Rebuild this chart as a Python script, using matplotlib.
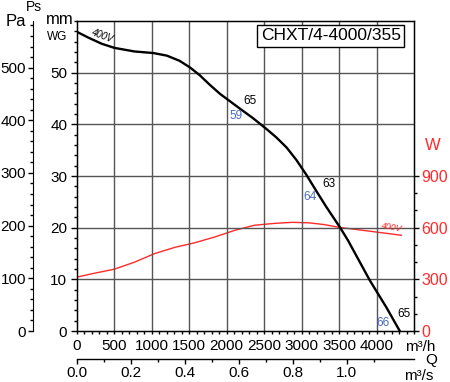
import matplotlib
matplotlib.use("Agg")
import matplotlib.pyplot as plt
from matplotlib.ticker import MultipleLocator, FixedLocator

plt.rcParams['font.family'] = ['Liberation Sans', 'DejaVu Sans']

# pressure curve (mm WG) vs airflow (m3/h)
q_p = [0, 150, 330, 500, 770, 1020, 1200, 1370, 1510, 1640, 1770, 1910, 2040,
       2170, 2350, 2530, 2660, 2800, 2930, 3060, 3200, 3330, 3510, 3620, 3910,
       4130, 4310]
p_mm = [57.9, 56.8, 55.6, 54.8, 54.1, 53.8, 53.3, 52.3, 51.0, 49.5, 47.7, 45.9,
        44.5, 43.1, 41.2, 39.1, 37.5, 35.5, 33.1, 30.3, 27.0, 24.0, 20.1, 17.5,
        9.8, 4.6, 0.0]

# absorbed power (W) vs airflow (m3/h)
q_w = [0, 240, 500, 770, 1040, 1310, 1570, 1840, 2110, 2370, 2640, 2880,
       3100, 3300, 3500, 3900, 4330]
w = [313, 336, 359, 400, 450, 486, 512, 546, 585, 614, 625, 631,
     628, 618, 602, 580, 556]

q_ticks = [0, 500, 1000, 1500, 2000, 2500, 3000, 3500, 4000]
qs_ticks = [0.0, 0.2, 0.4, 0.6, 0.8, 1.0]
mm_ticks = [0, 10, 20, 30, 40, 50]
pa_ticks = [0, 100, 200, 300, 400, 500]
w_ticks = [0, 300, 600, 900]

# sound levels next to the curve: (q, mm, text, colour)
marks = [(2307, 44.6, '65', 'black'), (2120, 41.7, '59', '#4a6cc0'),
         (3360, 28.4, '63', 'black'), (3107, 25.9, '64', '#4a6cc0'),
         (4080, 1.5, '66', '#4a6cc0'), (4373, 3.3, '65', 'black')]

red = '#ff2a2a'
grid_c = '#555555'

fig = plt.figure(figsize=(4.5, 3.82), dpi=100)
ax = fig.add_axes([0.171, 0.1335, 0.749, 0.8115])
ax.set_xlim(0, 4500)
ax.set_ylim(0, 60)

for v in q_ticks[1:]:
    ax.axvline(v, color=grid_c, lw=1.0, zorder=1)
for v in mm_ticks[1:]:
    ax.axhline(v, color=grid_c, lw=1.0, zorder=1)

ax.set_xticks(q_ticks)
ax.xaxis.set_minor_locator(MultipleLocator(100))
ax.set_yticks(mm_ticks)
ax.yaxis.set_minor_locator(MultipleLocator(2))
ax.tick_params(axis='both', which='major', labelsize=11, width=1)
ax.tick_params(axis='y', which='major', length=4, pad=3)
ax.tick_params(axis='x', which='major', length=2.5, pad=3)
ax.tick_params(axis='both', which='minor', length=2, width=1)
for s in ax.spines.values():
    s.set_linewidth(1.0)

# Pa axis on the far left
axp = ax.twinx()
axp.set_ylim(0, 60 * 9.80665)
axp.yaxis.set_ticks_position('left')
axp.spines['left'].set_position(('axes', -0.13))
for k in ['right', 'top', 'bottom']:
    axp.spines[k].set_visible(False)
axp.set_yticks(pa_ticks)
axp.yaxis.set_minor_locator(MultipleLocator(20))
axp.tick_params(axis='y', which='major', labelsize=11, length=3.5, width=1, pad=1.5)
axp.tick_params(axis='y', which='minor', length=2, width=1)

# power axis on the right
axw = ax.twinx()
axw.set_ylim(0, 1800)
axw.set_yticks(w_ticks)
axw.yaxis.set_minor_locator(FixedLocator([100, 200, 400, 500, 700, 800]))
axw.tick_params(axis='y', which='major', labelsize=11.5, labelcolor=red,
                length=3.5, width=1, pad=2)
axw.tick_params(axis='y', which='minor', length=2, width=1)
axw.plot(q_w, w, color=red, lw=1.0, zorder=3)

ax.set_zorder(axw.get_zorder() + 1)
ax.patch.set_visible(False)
axw.patch.set_visible(True)

ax.plot(q_p, p_mm, color='black', lw=1.7, zorder=4)

for q, y, t, c in marks:
    ax.text(q, y, t, color=c, fontsize=8.5, ha='center', va='center', zorder=5)

ax.text(347, 57.1, '400V', fontsize=7, style='italic', rotation=-20,
        ha='center', va='center', zorder=5)
ax.text(4200, 20.1, '400V', fontsize=6.5, style='italic', color=red,
        rotation=-10, ha='center', va='center', zorder=5)

ax.text(3387, 57.1, 'CHXT/4-4000/355', fontsize=12.5, ha='center', va='center',
        zorder=6, bbox=dict(boxstyle='square,pad=0.2', fc='white', ec='black', lw=1.0))

# m3/s axis below
sec = ax.secondary_xaxis(-0.09, functions=(lambda q: q / 3600.0, lambda s: s * 3600.0))
sec.set_xticks(qs_ticks)
sec.set_xticklabels(['%.1f' % v for v in qs_ticks])
sec.xaxis.set_minor_locator(FixedLocator([0.1, 0.3, 0.5, 0.7, 0.9, 1.1]))
sec.tick_params(axis='x', which='major', labelsize=11, length=3.5, width=1, pad=1.5)
sec.tick_params(axis='x', which='minor', length=2, width=1)
sec.spines['bottom'].set_linewidth(1.0)

fig.text(34 / 450, 1 - 7 / 382, 'Ps', fontsize=10, ha='center', va='center')
fig.text(16 / 450, 1 - 21 / 382, 'Pa', fontsize=12, ha='center', va='center')
fig.text(60 / 450, 1 - 20 / 382, 'mm', fontsize=12, ha='center', va='center')
fig.text(57 / 450, 1 - 37 / 382, 'WG', fontsize=8.5, ha='center', va='center')
fig.text(433 / 450, 1 - 146 / 382, 'W', fontsize=12, color=red, ha='center', va='center')
fig.text(420 / 450, 1 - 347 / 382, 'm³/h', fontsize=11, ha='center', va='center')
fig.text(431 / 450, 1 - 360 / 382, 'Q', fontsize=11, ha='center', va='center')
fig.text(419 / 450, 1 - 376 / 382, 'm³/s', fontsize=11, ha='center', va='center')

fig.savefig('out.png', dpi=100)
